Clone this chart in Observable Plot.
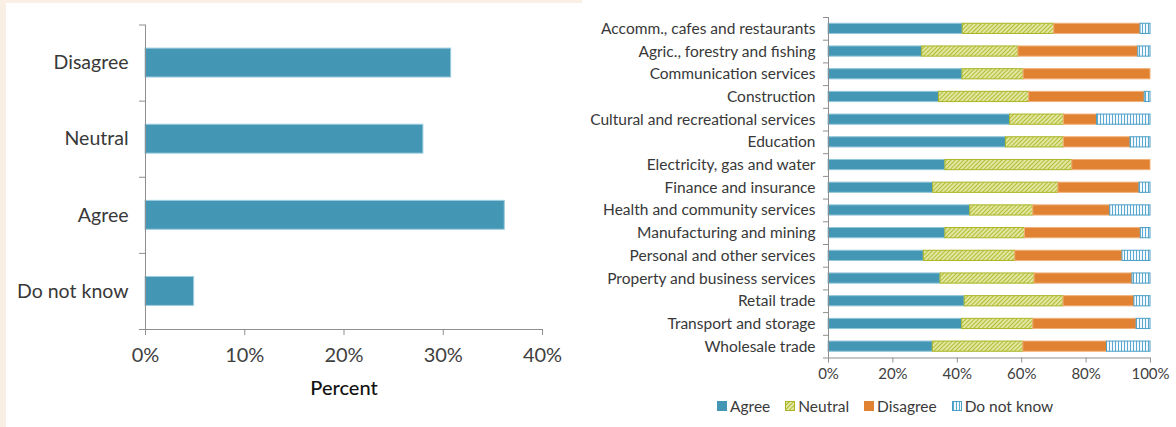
<!DOCTYPE html>
<html>
<head>
<meta charset="utf-8">
<script src="https://cdn.jsdelivr.net/npm/d3@7"></script>
<script src="https://cdn.jsdelivr.net/npm/@observablehq/plot@0.6"></script>
<style>
  html, body { margin: 0; padding: 0; }
  body { width: 1176px; height: 427px; background: #fff; position: relative; overflow: hidden; font-family: Lato, sans-serif; }
  .strip { position: absolute; background: #f9efe5; }
  #left { position: absolute; left: 0; top: 0; }
  #right { position: absolute; left: 580px; top: 0; }
  #legend { position: absolute; left: 717px; top: 397px; display: flex; align-items: center; gap: 15px; font-size: 15.5px; color: #3a3a3a; }
  #legend .item { display: flex; align-items: center; gap: 3px; }
  #legend svg { display: block; }
</style>
</head>
<body>
<svg width="0" height="0" style="position:absolute">
  <defs>
    <pattern id="hatchN" width="3" height="3" patternUnits="userSpaceOnUse" patternTransform="rotate(45)">
      <rect width="3" height="3" fill="#e3e7a4"></rect>
      <line x1="0.5" y1="0" x2="0.5" y2="3" stroke="#b2bd33" stroke-width="1.1"></line>
    </pattern>
    <pattern id="stripeK" width="3" height="3" patternUnits="userSpaceOnUse">
      <rect width="3" height="3" fill="#f3f9fc"></rect>
      <line x1="1.5" y1="0" x2="1.5" y2="3" stroke="#5aa8cf" stroke-width="1"></line>
    </pattern>
  </defs>
</svg>
<div class="strip" style="left:0;top:0;width:6px;height:427px"></div>
<div class="strip" style="left:0;top:0;width:582px;height:3px"></div>
<div id="left"></div>
<div id="right"></div>
<div id="legend"></div>
<script>
// ---------- data ----------
const responses = ["Disagree", "Neutral", "Agree", "Do not know"];
const responseShares = [30.8, 28.0, 36.2, 4.9];
const leftTicks = [0, 10, 20, 30, 40];

const industries = [
  "Accomm., cafes and restaurants",
  "Agric., forestry and fishing",
  "Communication services",
  "Construction",
  "Cultural and recreational services",
  "Education",
  "Electricity, gas and water",
  "Finance and insurance",
  "Health and community services",
  "Manufacturing and mining",
  "Personal and other services",
  "Property and business services",
  "Retail trade",
  "Transport and storage",
  "Wholesale trade"
];
const agree     = [41.7, 29.1, 41.6, 34.3, 56.4, 55.1, 36.3, 32.5, 44.0, 36.3, 29.6, 34.8, 42.3, 41.5, 32.4];
const neutral   = [28.4, 29.9, 19.0, 28.0, 16.7, 18.0, 39.4, 38.9, 19.6, 24.7, 28.4, 29.2, 30.7, 22.1, 28.1];
const disagree  = [26.8, 37.2, 39.4, 35.9, 10.3, 20.7, 24.3, 25.2, 23.9, 36.0, 33.3, 30.4, 22.0, 32.1, 26.0];
const dontKnow  = [3.1, 3.8, 0, 1.8, 16.6, 6.2, 0, 3.4, 12.5, 3.0, 8.7, 5.6, 5.0, 4.3, 13.5];
const seriesNames = ["Agree", "Neutral", "Disagree", "Do not know"];
const rightTicks = [0, 20, 40, 60, 80, 100];

// ---------- styles ----------
const fills = {"Agree": "#4397b5", "Neutral": "url(#hatchN)", "Disagree": "#e08231", "Do not know": "url(#stripeK)"};
const strokes = {"Agree": "#93c6da", "Neutral": "#a9b524", "Disagree": "#f1b27a", "Do not know": "#4a9fc7"};
const axisGray = "#8f8f8f";

// ---------- left chart ----------
const LW = 580, LH = 427, LT = 24.5, LB = 329, LL = 145, LR = 542;
const lstep = (LB - LT) / responses.length;
const leftData = responses.map((r, i) => ({response: r, share: responseShares[i]}));

const left = Plot.plot({
  width: LW, height: LH,
  marginLeft: LL, marginRight: LW - LR, marginTop: LT, marginBottom: LH - LB,
  style: {background: "transparent", fontFamily: "Lato, sans-serif", overflow: "visible"},
  x: {domain: [0, 40], label: null},
  y: {domain: responses, paddingInner: 0.62, paddingOuter: 0.31, round: false, label: null},
  marks: [
    Plot.barX(leftData, {x: "share", y: "response", fill: "#4397b5", stroke: "#9fcde0", strokeWidth: 1}),
    Plot.ruleX([0], {stroke: axisGray}),
    Plot.ruleY([responses[responses.length - 1]], {dy: lstep / 2, stroke: axisGray}),
    Plot.axisX({ticks: leftTicks, tickFormat: d => d + "%", tickSize: 6, tickPadding: 12, fontSize: 20, stroke: axisGray, fill: "#404040", label: null}),
    Plot.axisY({tickSize: 0, tickPadding: 17, fontSize: 19.5, fill: "#383838", label: null}),
    Plot.axisY({text: null, tickSize: 6, dy: -lstep / 2, stroke: axisGray, label: null}),
    Plot.axisY({ticks: [responses[responses.length - 1]], text: null, tickSize: 6, dy: lstep / 2, stroke: axisGray, label: null}),
    Plot.text(["Percent"], {frameAnchor: "bottom", dy: 65, fontSize: 20, fontWeight: 500, fill: "#111"})
  ]
});
document.getElementById("left").appendChild(left);

// ---------- right chart ----------
const RW = 596, RH = 390, RT = 17, RB = 357.5, RL = 828 - 580, RR = 1150 - 580;
const rstep = (RB - RT) / industries.length;
const columns = [agree, neutral, disagree, dontKnow];
const rightData = industries.flatMap((ind, i) =>
  seriesNames.map((s, j) => ({industry: ind, series: s, value: columns[j][i]}))
).filter(d => d.value > 0);

const right = Plot.plot({
  width: RW, height: RH,
  marginLeft: RL, marginRight: RW - RR, marginTop: RT, marginBottom: RH - RB,
  style: {background: "transparent", fontFamily: "Lato, sans-serif", overflow: "visible"},
  x: {domain: [0, 100], label: null},
  y: {domain: industries, paddingInner: 0.55, paddingOuter: 0.275, round: false, label: null},
  color: {type: "identity"},
  marks: [
    Plot.barX(rightData, Plot.stackX({x: "value", y: "industry", fill: d => fills[d.series], stroke: d => strokes[d.series], strokeWidth: 1})),
    Plot.ruleX([0], {stroke: axisGray}),
    Plot.ruleY([industries[industries.length - 1]], {dy: rstep / 2, stroke: axisGray}),
    Plot.axisX({ticks: rightTicks, tickFormat: d => d + "%", tickSize: 5, tickPadding: 5, fontSize: 15, stroke: axisGray, fill: "#404040", label: null}),
    Plot.axisY({tickSize: 0, tickPadding: 13, fontSize: 15.5, fill: "#383838", label: null}),
    Plot.axisY({text: null, tickSize: 5, dy: -rstep / 2, stroke: axisGray, label: null}),
    Plot.axisY({ticks: [industries[industries.length - 1]], text: null, tickSize: 5, dy: rstep / 2, stroke: axisGray, label: null})
  ]
});
document.getElementById("right").appendChild(right);

// ---------- legend ----------
const legend = document.getElementById("legend");
seriesNames.forEach(s => {
  const item = document.createElement("div");
  item.className = "item";
  item.innerHTML = `<svg width="10" height="10"><rect x="0.5" y="0.5" width="9" height="9" fill="${fills[s]}" stroke="${s === "Agree" || s === "Disagree" ? fills[s] : strokes[s]}" stroke-width="1"></rect></svg><span>${s}</span>`;
  legend.appendChild(item);
});
</script>
</body>
</html>
